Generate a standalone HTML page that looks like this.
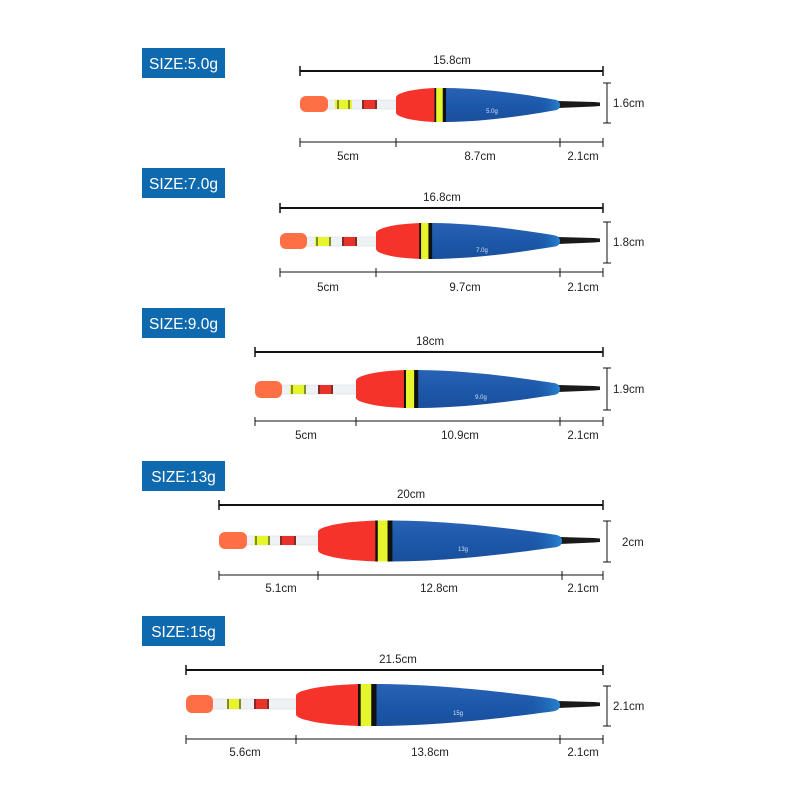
<!DOCTYPE html>
<html><head><meta charset="utf-8"><style>
html,body{margin:0;padding:0;background:#fff;}
svg{display:block;}
text{font-family:"Liberation Sans",sans-serif;}
</style></head><body>
<svg width="800" height="800" viewBox="0 0 800 800" xmlns="http://www.w3.org/2000/svg">
<defs>
<linearGradient id="bl" x1="0" y1="0" x2="0" y2="1">
<stop offset="0" stop-color="#2a62b4"/><stop offset="0.5" stop-color="#1c58aa"/><stop offset="1" stop-color="#1a4f9c"/></linearGradient>
<linearGradient id="bl2" x1="0" y1="0" x2="1" y2="0">
<stop offset="0.8" stop-color="#1c58aa" stop-opacity="0"/><stop offset="1" stop-color="#2a8ed8" stop-opacity="0.8"/></linearGradient>
<g id="body">
<path d="M0,-0.22 Q0,-0.3 0.04,-0.36 Q0.1,-0.47 0.24,-0.5 L0.24,0.5 Q0.1,0.47 0.04,0.36 Q0,0.3 0,0.22 Z" fill="#f6332a"/>
<path d="M0.235,-0.5 L0.31,-0.5 L0.31,0.5 L0.235,0.5 Z" fill="#111"/>
<path d="M0.245,-0.5 L0.285,-0.5 L0.285,0.5 L0.245,0.5 Z" fill="#e6f52c"/>
<path id="bp" d="M0.305,-0.5 C0.55,-0.49 0.8,-0.3 0.975,-0.15 Q1,-0.12 1,0 Q1,0.12 0.975,0.15 C0.8,0.3 0.55,0.49 0.305,0.5 Z" fill="url(#bl)"/>
<path d="M0.305,-0.5 C0.55,-0.49 0.8,-0.3 0.975,-0.15 Q1,-0.12 1,0 Q1,0.12 0.975,0.15 C0.8,0.3 0.55,0.49 0.305,0.5 Z" fill="url(#bl2)"/>
</g>
</defs>

<!-- Row 1 -->
<rect x="142" y="48" width="83" height="30" fill="#0f69ae"/>
<text x="183.5" y="69" fill="#fff" font-size="15.5" text-anchor="middle">SIZE:5.0g</text>
<text x="452" y="64" font-size="11.5" text-anchor="middle" fill="#222">15.8cm</text>
<g stroke="#111"><line x1="300" y1="71" x2="603" y2="71" stroke-width="2"/><line x1="300" y1="66" x2="300" y2="76" stroke-width="1.5"/><line x1="603" y1="66" x2="603" y2="76" stroke-width="1.5"/>
<line x1="300" y1="142" x2="603" y2="142" stroke-width="1"/>
<line x1="300" y1="138" x2="300" y2="147"/><line x1="396" y1="138" x2="396" y2="147"/><line x1="560" y1="138" x2="560" y2="147"/><line x1="603" y1="138" x2="603" y2="147"/>
<line x1="607" y1="83" x2="607" y2="123"/><line x1="603" y1="83" x2="611" y2="83"/><line x1="603" y1="123" x2="611" y2="123"/></g>
<text x="348" y="160" font-size="11.5" text-anchor="middle" fill="#222">5cm</text>
<text x="480" y="160" font-size="11.5" text-anchor="middle" fill="#222">8.7cm</text>
<text x="583" y="160" font-size="11.5" text-anchor="middle" fill="#222">2.1cm</text>
<text x="613" y="107" font-size="11.5" fill="#222">1.6cm</text>
<rect x="326" y="100" width="72" height="9" fill="#eef2f5" stroke="#d8dde2" stroke-width="0.6"/>
<rect x="335" y="100" width="17" height="9" fill="#e6f52c"/><line x1="338" y1="100" x2="338" y2="109" stroke="#222"/><line x1="349" y1="100" x2="349" y2="109" stroke="#222"/>
<rect x="362" y="100" width="15" height="9" fill="#e8322a"/><line x1="363" y1="100" x2="363" y2="109" stroke="#222"/><line x1="376" y1="100" x2="376" y2="109" stroke="#222"/>
<rect x="300" y="96" width="28" height="16" rx="6" fill="#ff6f45"/>
<path d="M558,101 L594,102 L600,102.5 L600,106 L594,106.5 L558,108 Z" fill="#1a1a1a"/>
<use href="#body" transform="translate(396,105) scale(164,34)"/>
<text x="492" y="113" font-size="6" fill="#cfe0f5" text-anchor="middle">5.0g</text>

<!-- Row 2 -->
<rect x="142" y="168" width="83" height="30" fill="#0f69ae"/>
<text x="183.5" y="189" fill="#fff" font-size="15.5" text-anchor="middle">SIZE:7.0g</text>
<text x="442" y="201" font-size="11.5" text-anchor="middle" fill="#222">16.8cm</text>
<g stroke="#111"><line x1="280" y1="208" x2="603" y2="208" stroke-width="2"/><line x1="280" y1="203" x2="280" y2="213" stroke-width="1.5"/><line x1="603" y1="203" x2="603" y2="213" stroke-width="1.5"/>
<line x1="280" y1="272" x2="603" y2="272" stroke-width="1"/>
<line x1="280" y1="268" x2="280" y2="277"/><line x1="376" y1="268" x2="376" y2="277"/><line x1="560" y1="268" x2="560" y2="277"/><line x1="603" y1="268" x2="603" y2="277"/>
<line x1="607" y1="222" x2="607" y2="263"/><line x1="603" y1="222" x2="611" y2="222"/><line x1="603" y1="263" x2="611" y2="263"/></g>
<text x="328" y="291" font-size="11.5" text-anchor="middle" fill="#222">5cm</text>
<text x="465" y="291" font-size="11.5" text-anchor="middle" fill="#222">9.7cm</text>
<text x="583" y="291" font-size="11.5" text-anchor="middle" fill="#222">2.1cm</text>
<text x="613" y="246" font-size="11.5" fill="#222">1.8cm</text>
<rect x="306" y="237" width="72" height="9" fill="#eef2f5" stroke="#d8dde2" stroke-width="0.6"/>
<rect x="315" y="237" width="16" height="9" fill="#e6f52c"/><line x1="317" y1="237" x2="317" y2="246" stroke="#222"/><line x1="330" y1="237" x2="330" y2="246" stroke="#222"/>
<rect x="342" y="237" width="15" height="9" fill="#e8322a"/><line x1="343" y1="237" x2="343" y2="246" stroke="#222"/><line x1="356" y1="237" x2="356" y2="246" stroke="#222"/>
<rect x="280" y="233" width="27" height="16" rx="6" fill="#ff6f45"/>
<path d="M558,237 L594,238 L600,238.5 L600,242 L594,242.5 L558,244 Z" fill="#1a1a1a"/>
<use href="#body" transform="translate(376,241) scale(184,36)"/>
<text x="482" y="252" font-size="6" fill="#cfe0f5" text-anchor="middle">7.0g</text>

<!-- Row 3 -->
<rect x="142" y="308" width="83" height="30" fill="#0f69ae"/>
<text x="183.5" y="329" fill="#fff" font-size="15.5" text-anchor="middle">SIZE:9.0g</text>
<text x="430" y="345" font-size="11.5" text-anchor="middle" fill="#222">18cm</text>
<g stroke="#111"><line x1="255" y1="352" x2="603" y2="352" stroke-width="2"/><line x1="255" y1="347" x2="255" y2="357" stroke-width="1.5"/><line x1="603" y1="347" x2="603" y2="357" stroke-width="1.5"/>
<line x1="255" y1="421" x2="603" y2="421" stroke-width="1"/>
<line x1="255" y1="417" x2="255" y2="426"/><line x1="356" y1="417" x2="356" y2="426"/><line x1="560" y1="417" x2="560" y2="426"/><line x1="603" y1="417" x2="603" y2="426"/>
<line x1="607" y1="368" x2="607" y2="410"/><line x1="603" y1="368" x2="611" y2="368"/><line x1="603" y1="410" x2="611" y2="410"/></g>
<text x="306" y="439" font-size="11.5" text-anchor="middle" fill="#222">5cm</text>
<text x="460" y="439" font-size="11.5" text-anchor="middle" fill="#222">10.9cm</text>
<text x="583" y="439" font-size="11.5" text-anchor="middle" fill="#222">2.1cm</text>
<text x="613" y="393" font-size="11.5" fill="#222">1.9cm</text>
<rect x="282" y="385" width="76" height="9" fill="#eef2f5" stroke="#d8dde2" stroke-width="0.6"/>
<rect x="290" y="385" width="16" height="9" fill="#e6f52c"/><line x1="292" y1="385" x2="292" y2="394" stroke="#222"/><line x1="305" y1="385" x2="305" y2="394" stroke="#222"/>
<rect x="318" y="385" width="15" height="9" fill="#e8322a"/><line x1="319" y1="385" x2="319" y2="394" stroke="#222"/><line x1="332" y1="385" x2="332" y2="394" stroke="#222"/>
<rect x="255" y="381" width="27" height="17" rx="6" fill="#ff6f45"/>
<path d="M558,385 L594,386 L600,386.5 L600,390 L594,390.5 L558,392 Z" fill="#1a1a1a"/>
<use href="#body" transform="translate(356,389) scale(204,38)"/>
<text x="481" y="399" font-size="6" fill="#cfe0f5" text-anchor="middle">9.0g</text>

<!-- Row 4 -->
<rect x="142" y="461" width="83" height="30" fill="#0f69ae"/>
<text x="183.5" y="482" fill="#fff" font-size="15.5" text-anchor="middle">SIZE:13g</text>
<text x="411" y="498" font-size="11.5" text-anchor="middle" fill="#222">20cm</text>
<g stroke="#111"><line x1="219" y1="505" x2="603" y2="505" stroke-width="2"/><line x1="219" y1="500" x2="219" y2="510" stroke-width="1.5"/><line x1="603" y1="500" x2="603" y2="510" stroke-width="1.5"/>
<line x1="219" y1="575" x2="603" y2="575" stroke-width="1"/>
<line x1="219" y1="571" x2="219" y2="580"/><line x1="318" y1="571" x2="318" y2="580"/><line x1="562" y1="571" x2="562" y2="580"/><line x1="603" y1="571" x2="603" y2="580"/>
<line x1="607" y1="521" x2="607" y2="562"/><line x1="603" y1="521" x2="611" y2="521"/><line x1="603" y1="562" x2="611" y2="562"/></g>
<text x="281" y="592" font-size="11.5" text-anchor="middle" fill="#222">5.1cm</text>
<text x="439" y="592" font-size="11.5" text-anchor="middle" fill="#222">12.8cm</text>
<text x="583" y="592" font-size="11.5" text-anchor="middle" fill="#222">2.1cm</text>
<text x="622" y="546" font-size="11.5" fill="#222">2cm</text>
<rect x="245" y="536" width="75" height="9" fill="#eef2f5" stroke="#d8dde2" stroke-width="0.6"/>
<rect x="254" y="536" width="16" height="9" fill="#e6f52c"/><line x1="256" y1="536" x2="256" y2="545" stroke="#222"/><line x1="269" y1="536" x2="269" y2="545" stroke="#222"/>
<rect x="280" y="536" width="16" height="9" fill="#e8322a"/><line x1="281" y1="536" x2="281" y2="545" stroke="#222"/><line x1="295" y1="536" x2="295" y2="545" stroke="#222"/>
<rect x="219" y="532" width="28" height="17" rx="6" fill="#ff6f45"/>
<path d="M560,537 L594,538 L600,538.5 L600,542 L594,542.5 L560,544 Z" fill="#1a1a1a"/>
<use href="#body" transform="translate(318,541) scale(244,41)"/>
<text x="463" y="551" font-size="6" fill="#cfe0f5" text-anchor="middle">13g</text>

<!-- Row 5 -->
<rect x="142" y="616" width="83" height="30" fill="#0f69ae"/>
<text x="183.5" y="637" fill="#fff" font-size="15.5" text-anchor="middle">SIZE:15g</text>
<text x="398" y="663" font-size="11.5" text-anchor="middle" fill="#222">21.5cm</text>
<g stroke="#111"><line x1="186" y1="670" x2="603" y2="670" stroke-width="2"/><line x1="186" y1="665" x2="186" y2="675" stroke-width="1.5"/><line x1="603" y1="665" x2="603" y2="675" stroke-width="1.5"/>
<line x1="186" y1="739" x2="603" y2="739" stroke-width="1"/>
<line x1="186" y1="735" x2="186" y2="744"/><line x1="296" y1="735" x2="296" y2="744"/><line x1="560" y1="735" x2="560" y2="744"/><line x1="603" y1="735" x2="603" y2="744"/>
<line x1="607" y1="686" x2="607" y2="726"/><line x1="603" y1="686" x2="611" y2="686"/><line x1="603" y1="726" x2="611" y2="726"/></g>
<text x="245" y="756" font-size="11.5" text-anchor="middle" fill="#222">5.6cm</text>
<text x="430" y="756" font-size="11.5" text-anchor="middle" fill="#222">13.8cm</text>
<text x="583" y="756" font-size="11.5" text-anchor="middle" fill="#222">2.1cm</text>
<text x="613" y="710" font-size="11.5" fill="#222">2.1cm</text>
<rect x="210" y="699" width="88" height="10" fill="#eef2f5" stroke="#d8dde2" stroke-width="0.6"/>
<rect x="227" y="699" width="14" height="10" fill="#e6f52c"/><line x1="228" y1="699" x2="228" y2="709" stroke="#222"/><line x1="240" y1="699" x2="240" y2="709" stroke="#222"/>
<rect x="254" y="699" width="15" height="10" fill="#e8322a"/><line x1="255" y1="699" x2="255" y2="709" stroke="#222"/><line x1="268" y1="699" x2="268" y2="709" stroke="#222"/>
<rect x="186" y="695" width="27" height="18" rx="6" fill="#ff6f45"/>
<path d="M558,701 L594,702 L600,702.5 L600,706 L594,706.5 L558,708 Z" fill="#1a1a1a"/>
<use href="#body" transform="translate(296,705) scale(264,42)"/>
<text x="458" y="715" font-size="6" fill="#cfe0f5" text-anchor="middle">15g</text>
</svg>
</body></html>
